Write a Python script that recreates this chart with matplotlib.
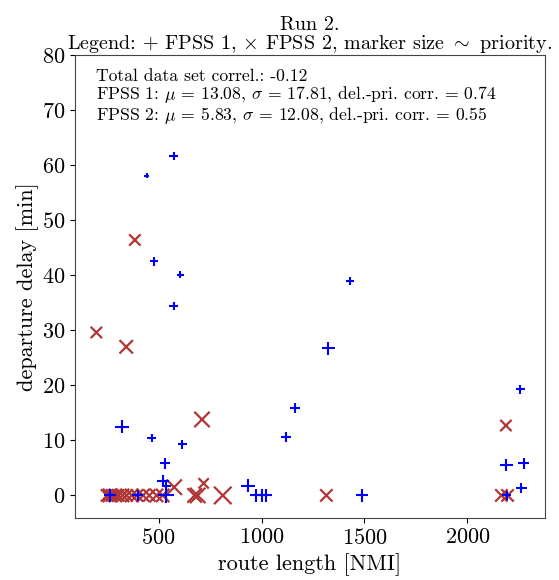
import matplotlib
matplotlib.use("Agg")
import matplotlib.pyplot as plt
import numpy as np

plt.rcParams["font.family"] = "serif"
plt.rcParams["font.serif"] = ["cmr10"]
plt.rcParams["mathtext.fontset"] = "cm"
plt.rcParams["axes.unicode_minus"] = False
plt.rcParams["axes.formatter.use_mathtext"] = True

# FPSS 1 (+): route length, departure delay, marker size (priority)
fpss1_len = [573, 443, 479, 606, 1430, 573, 1325, 1161, 323, 466, 1120, 615,
             533, 523, 538, 934, 975, 1000, 1020, 1487, 398, 536, 265,
             2257, 2189, 2273, 2262, 2190]
fpss1_delay = [61.6, 58.1, 42.5, 40.1, 38.9, 34.4, 26.7, 15.9, 12.5, 10.5, 10.6, 9.3,
               5.8, 2.6, 1.8, 1.8, 0, 0, 0, 0, 0, 0, 0,
               19.3, 5.5, 5.8, 1.3, 0]
fpss1_size = [8, 5, 8, 7, 8, 8, 12, 10, 13, 8, 10, 9,
              10, 12, 9, 13, 13, 13, 13, 12, 11, 15, 12,
              9, 12, 10, 10, 8]

# FPSS 2 (x)
fpss2_len = [198, 343, 385, 711, 576, 719, 675, 690, 812, 1315, 2187, 2165, 2195,
             250, 262, 275, 290, 305, 325, 345, 370, 395, 425, 455, 490, 520]
fpss2_delay = [29.6, 27.0, 46.4, 13.8, 1.5, 2.2, 0, 0, 0, 0, 12.7, 0, 0,
               0, 0, 0, 0, 0, 0, 0, 0, 0, 0, 0, 0, 0]
fpss2_size = [11, 13, 11, 15, 15, 10, 14, 15, 17, 12, 11, 12, 12,
              12, 13, 12, 13, 12, 13, 12, 13, 12, 13, 12, 13, 13]

stats_text = ("Total data set correl.: -0.12\n"
              r"FPSS 1: $\mu$ = 13.08, $\sigma$ = 17.81, del.-pri. corr. = 0.74" "\n"
              r"FPSS 2: $\mu$ = 5.83, $\sigma$ = 12.08, del.-pri. corr. = 0.55")


def px_to_s(px):
    return (np.array(px) * 0.74) ** 2


fig = plt.figure(figsize=(5.59, 5.8), dpi=100)
ax = fig.add_axes([75 / 559, 1 - 518 / 580, 470 / 559, 463 / 580])

ax.scatter(fpss1_len, fpss1_delay, s=px_to_s(fpss1_size), marker="+",
           color="#0000ff", linewidths=1.5, zorder=3)
ax.scatter(fpss2_len, fpss2_delay, s=px_to_s(fpss2_size), marker="x",
           color="#b03535", linewidths=1.6, zorder=2)

ax.set_ylim(-4.1, 80)
ax.set_xticks([500, 1000, 1500, 2000])
ax.set_yticks(range(0, 81, 10))
ax.tick_params(labelsize=16)
ax.set_xlabel("route length [NMI]", fontsize=16)
ax.set_ylabel("departure delay [min]", fontsize=16, labelpad=2)
ax.set_title("Run 2.\n" r"Legend: $+$ FPSS 1, $\times$ FPSS 2, marker size $\sim$ priority.",
             fontsize=14.5, linespacing=0.95, pad=3)
for sp in ax.spines.values():
    sp.set_color("#444444")

ax.text(0.045, 0.97, stats_text, transform=ax.transAxes, fontsize=12.7,
        va="top", ha="left", linespacing=1.0)

fig.savefig("out.png", dpi=100)
